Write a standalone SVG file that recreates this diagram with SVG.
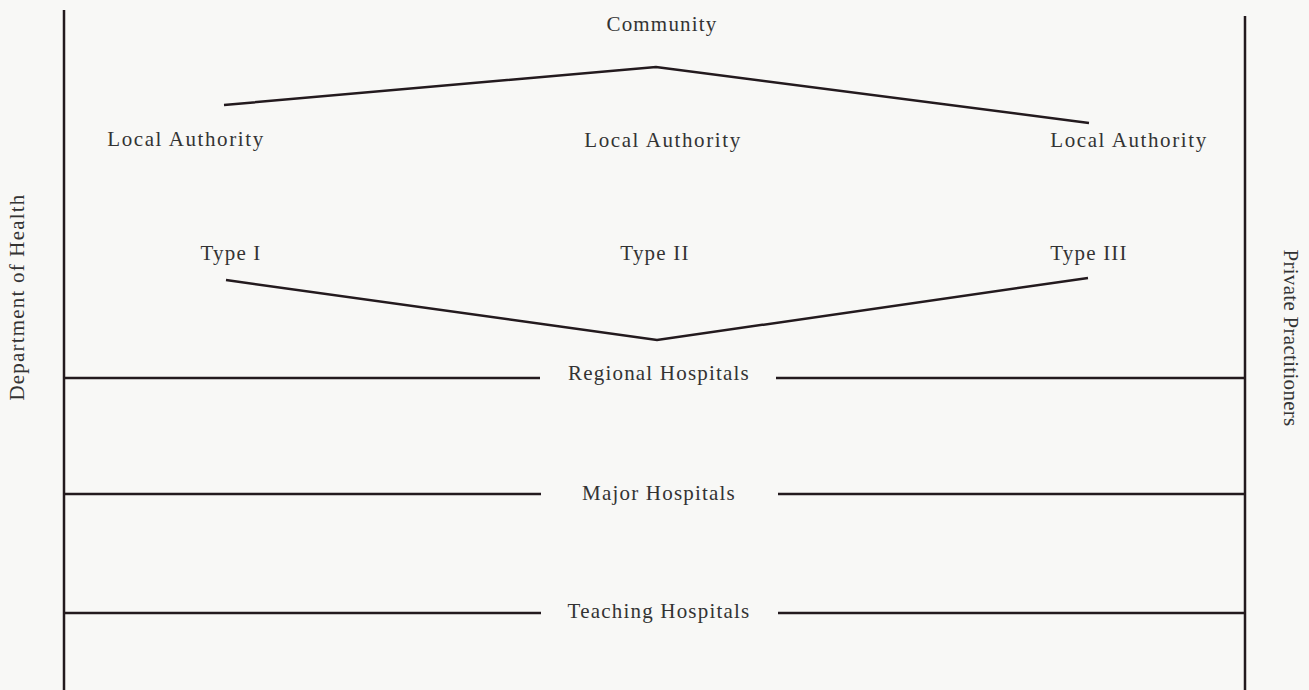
<svg xmlns="http://www.w3.org/2000/svg" width="1309" height="690" viewBox="0 0 1309 690">
<style>
text{font-family:"Liberation Serif","Times New Roman",serif;font-size:21px;fill:#333;text-anchor:middle;letter-spacing:1.2px}
.la{letter-spacing:1.6px}
.pp{letter-spacing:0.3px}
.ln{stroke:#231a1e;stroke-width:2.5;fill:none}
</style>
<rect width="1309" height="690" fill="#f8f8f6"/>
<g id="connectors">
<line class="ln" x1="64" y1="10" x2="64" y2="690"/>
<line class="ln" x1="1245" y1="16" x2="1245" y2="690"/>
<polyline class="ln" points="224,105 656,67 1089,123"/>
<polyline class="ln" points="226,280 657,340 1088,278"/>
<line class="ln" x1="64" y1="378" x2="540" y2="378"/>
<line class="ln" x1="776" y1="378" x2="1245" y2="378"/>
<line class="ln" x1="64" y1="494" x2="541" y2="494"/>
<line class="ln" x1="778" y1="494" x2="1245" y2="494"/>
<line class="ln" x1="64" y1="613" x2="541" y2="613"/>
<line class="ln" x1="778" y1="613" x2="1245" y2="613"/>
</g>
<g id="community"><text x="662" y="31">Community</text></g>
<g id="la1"><text class="la" x="186" y="146">Local Authority</text></g>
<g id="la2"><text class="la" x="663" y="147">Local Authority</text></g>
<g id="la3"><text class="la" x="1129" y="147">Local Authority</text></g>
<g id="type1"><text x="231" y="260">Type I</text></g>
<g id="type2"><text x="655" y="260">Type II</text></g>
<g id="type3"><text x="1089" y="260">Type III</text></g>
<g id="regional"><text x="659" y="380">Regional Hospitals</text></g>
<g id="major"><text x="659" y="500">Major Hospitals</text></g>
<g id="teaching"><text x="659" y="618">Teaching Hospitals</text></g>
<g id="doh"><text transform="translate(24,297) rotate(-90)">Department of Health</text></g>
<g id="pp"><text class="pp" transform="translate(1284,338) rotate(90)">Private Practitioners</text></g>
</svg>
